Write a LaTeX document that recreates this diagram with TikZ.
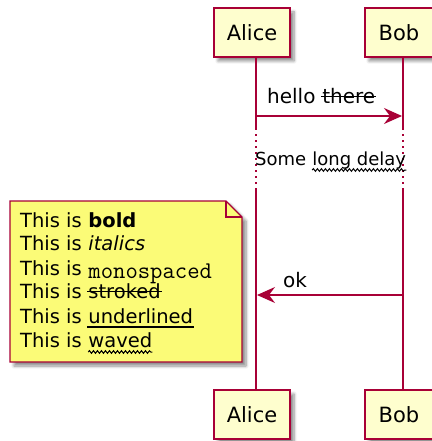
\documentclass[tikz,border=0pt]{standalone}
\usepackage{fontspec}
\setmainfont{DejaVu Sans}
\setmonofont{Latin Modern Mono}
\usetikzlibrary{arrows.meta,positioning,calc,shadows.blur,decorations.pathmorphing}
\usepackage{xcolor}
\definecolor{umlred}{HTML}{A80036}
\definecolor{headfill}{HTML}{FEFECE}
\definecolor{notefill}{HTML}{FBFB77}
\tikzset{
  umlshadow/.style   = {blur shadow={shadow xshift=4pt, shadow yshift=-4pt,
                        shadow blur radius=3pt, shadow blur steps=6,
                        shadow opacity=45}},
  participant/.style = {draw=umlred, fill=headfill, line width=1.4pt,
                        minimum height=49pt, inner sep=0pt,
                        font=\fontsize{21}{25}\selectfont, umlshadow},
  lifeline/.style    = {draw=umlred, line width=1.3pt},
  delayline/.style   = {lifeline, dash pattern=on 1.5pt off 4.5pt},
  msg/.style         = {-{Stealth[length=18pt, width=16pt, inset=6pt]},
                        draw=umlred, line width=1.4pt},
  word/.style        = {font=\fontsize{20}{24}\selectfont, inner sep=0pt,
                        anchor=base west},
  notebox/.style     = {draw=umlred, fill=notefill, line width=1.2pt},
  strike/.style      = {line width=1.2pt, shorten <=-1pt, shorten >=-1pt},
  wave/.style        = {line width=1pt, decorate,
                        decoration={snake, amplitude=1.3pt, segment length=4pt}},
}
% one line of the note: name, baseline, decorated word
\newcommand{\noteline}[3]{%
  \node[word, font=\fontsize{19.5}{24}\selectfont] (#1) at (20,#2) {This is\ \null};
  \node[word, font=\fontsize{19.5}{24}\selectfont] (#1w) at (#1.base east) {#3};}

\begin{document}
\begin{tikzpicture}[x=1pt,y=-1pt]
\useasboundingbox (0,0) rectangle (431,441);
% ---- participants ----
\node[participant, minimum width=76pt] (alice) at (252,32.5) {Alice};
\node[participant, minimum width=68pt] (bob) at (399,32.5) {Bob};
\node[participant, minimum width=76pt] (alicefoot) at (252,414.5) {Alice};
\node[participant, minimum width=68pt] (bobfoot) at (399,414.5) {Bob};

% ---- lifelines ----
\coordinate (a0) at ($(alice.south)+(4,0)$);
\coordinate (a1) at (256,128);
\coordinate (a2) at (256,190);
\coordinate (a3) at ($(alicefoot.north)+(4,0)$);
\coordinate (b0) at ($(bob.south)+(4,0)$);
\coordinate (b1) at (403,128);
\coordinate (b2) at (403,190);
\coordinate (b3) at ($(bobfoot.north)+(4,0)$);
\draw[lifeline] (a0) -- (a1);
\draw[delayline] (a1) -- (a2);
\draw[lifeline] (a2) -- (a3);
\draw[lifeline] (b0) -- (b1);
\draw[delayline] (b1) -- (b2);
\draw[lifeline] (b2) -- (b3);

% ---- messages ----
\coordinate (hs) at (256,116);
\coordinate (he) at (402,116);
\draw[msg] (hs) -- (he);
\node[word] (hello) at (267,103) {hello\ \null};
\node[word] (there) at (hello.base east) {there};
\draw[strike] ($(there.base west)+(0,-6.5)$) -- ($(there.base east)+(0,-6.5)$);

\node[word, font=\fontsize{18}{22}\selectfont] (some) at (255,165) {Some\ \null};
\node[word, font=\fontsize{18}{22}\selectfont] (delay) at (some.base east) {long delay};
\draw[wave] ($(delay.base west)+(0,5)$) -- ($(delay.base east)+(0,5)$);

\coordinate (os) at (403,295);
\coordinate (oe) at (257,295);
\draw[msg] (os) -- (oe);
\node[word] (ok) at (283,287) {ok};

% ---- note ----
\coordinate (nw) at (10,201);
\coordinate (nf) at (226,201);
\coordinate (nr) at (242,217);
\coordinate (ne) at (242,362);
\coordinate (ns) at (10,362);
\filldraw[notebox, umlshadow] (nw) -- (nf) -- (nr) -- (ne) -- (ns) -- cycle;
\draw[notebox, fill=none] (nf) |- (nr);
\noteline{bold}{227}{\bfseries bold}
\noteline{italics}{250}{\itshape italics}
\noteline{mono}{275}{\raisebox{-3pt}{\ttfamily\fontsize{24}{24}\selectfont monospaced}}
\noteline{stroked}{298}{stroked}
\noteline{under}{323}{underlined}
\noteline{waved}{347}{waved}
\draw[strike] ($(strokedw.base west)+(0,-6.5)$) -- ($(strokedw.base east)+(0,-6.5)$);
\draw[strike] ($(underw.base west)+(0,4)$) -- ($(underw.base east)+(0,4)$);
\draw[wave] ($(wavedw.base west)+(0,5)$) -- ($(wavedw.base east)+(0,5)$);
\end{tikzpicture}
\end{document}
